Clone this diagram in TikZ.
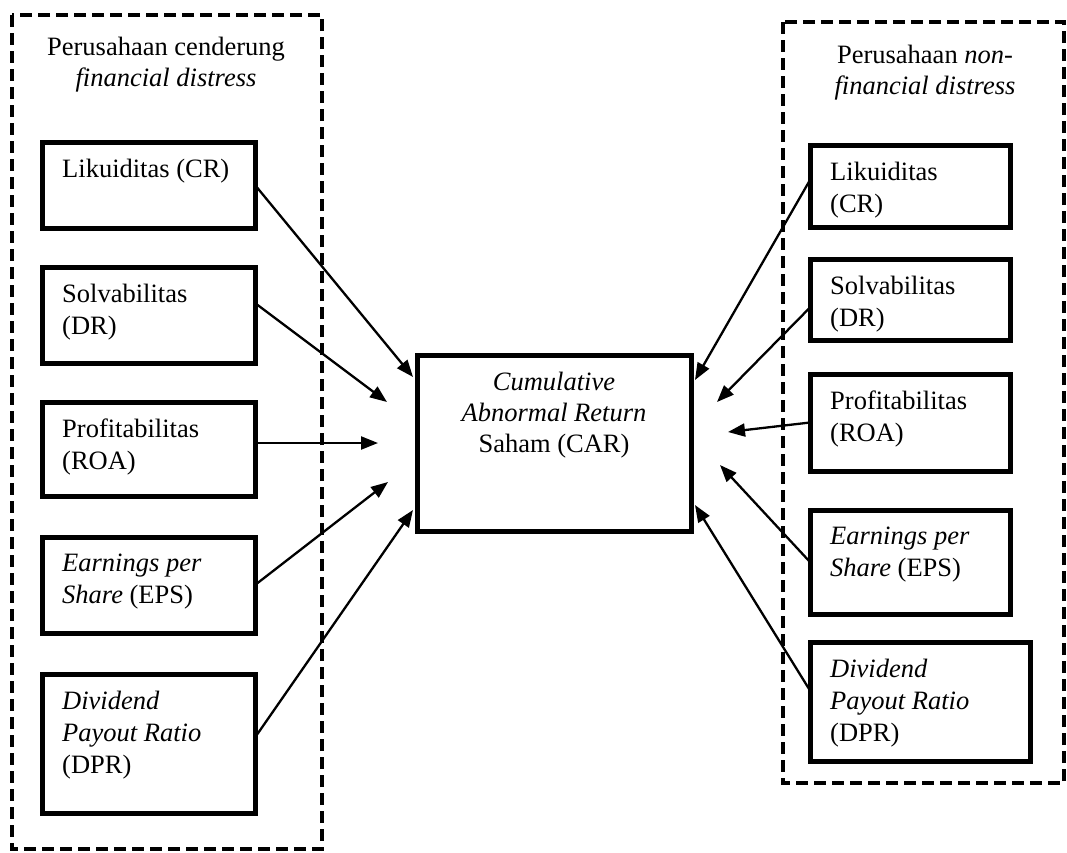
\documentclass[tikz,border=0pt]{standalone}
\usepackage{fontspec}
\setmainfont{Liberation Serif}
\usepackage{tikz}
\usetikzlibrary{arrows.meta}
\usetikzlibrary{positioning}

\newcommand{\varfont}{\fontsize{26.5}{32}\selectfont}
\tikzset{
  varbox/.style={draw, line width=5pt, anchor=north west, inner sep=0pt, outer sep=0pt},
  vartext/.style={anchor=north west, inner sep=0pt, align=left, font=\varfont},
  headtext/.style={anchor=north, inner sep=0pt, align=center, font=\fontsize{26.5}{31}\selectfont},
  groupbox/.style={draw, line width=4.5pt, dash pattern=on 12pt off 6pt},
  effect/.style={line width=2.3pt, -{Triangle[length=17pt,width=13pt]}}
}

\begin{document}
\begin{tikzpicture}[x=1pt, y=-1pt]
    \useasboundingbox (0,0) rectangle (1067,852);

    % groups
    \draw [groupbox] (12, 15) rectangle (322, 849);
    \draw [groupbox] (783, 22) rectangle (1064, 783);
    \node [headtext] (lhead) at (166, 37) {Perusahaan cenderung\\\textit{financial distress}};
    \node [headtext] (rhead) at (925, 45) {Perusahaan \textit{non-}\\\textit{financial distress}};

    % left variables
    \node [varbox, minimum width=213, minimum height=86] (lcr) at (42, 142) {};
    \node [varbox, minimum width=213, minimum height=96] (ldr) at (42, 267) {};
    \node [varbox, minimum width=213, minimum height=94] (lroa) at (42, 402) {};
    \node [varbox, minimum width=213, minimum height=96] (leps) at (42, 537) {};
    \node [varbox, minimum width=213, minimum height=139] (ldpr) at (42, 674) {};
    \node [vartext] at ([shift={(20,17)}]lcr.north west) {Likuiditas (CR)};
    \node [vartext] at ([shift={(20,17)}]ldr.north west) {Solvabilitas\\(DR)};
    \node [vartext] at ([shift={(20,17)}]lroa.north west) {Profitabilitas\\(ROA)};
    \node [vartext] at ([shift={(20,17)}]leps.north west) {\textit{Earnings per}\\\textit{Share} (EPS)};
    \node [vartext] at ([shift={(20,17)}]ldpr.north west) {\textit{Dividend}\\\textit{Payout Ratio}\\(DPR)};

    % right variables
    \node [varbox, minimum width=200, minimum height=82] (rcr) at (810, 145) {};
    \node [varbox, minimum width=200, minimum height=81] (rdr) at (810, 259) {};
    \node [varbox, minimum width=200, minimum height=97] (rroa) at (810, 374) {};
    \node [varbox, minimum width=200, minimum height=104] (reps) at (810, 510) {};
    \node [varbox, minimum width=220, minimum height=119] (rdpr) at (810, 642) {};
    \node [vartext] at ([shift={(20,17)}]rcr.north west) {Likuiditas\\(CR)};
    \node [vartext] at ([shift={(20,17)}]rdr.north west) {Solvabilitas\\(DR)};
    \node [vartext] at ([shift={(20,17)}]rroa.north west) {Profitabilitas\\(ROA)};
    \node [vartext] at ([shift={(20,17)}]reps.north west) {\textit{Earnings per}\\\textit{Share} (EPS)};
    \node [vartext] at ([shift={(20,17)}]rdpr.north west) {\textit{Dividend}\\\textit{Payout Ratio}\\(DPR)};

    % dependent variable
    \node [varbox, minimum width=274, minimum height=176] (car) at (417, 355) {};
    \node [headtext] at ([yshift=-17pt]car.north) {\textit{Cumulative}\\\textit{Abnormal Return}\\Saham (CAR)};

    % arrow tips
    \coordinate (tl1) at (413, 377);
    \coordinate (tl2) at (387, 402);
    \coordinate (tl3) at (378, 443);
    \coordinate (tl4) at (388, 482);
    \coordinate (tl5) at (413, 510);
    \coordinate (tr1) at (695, 380);
    \coordinate (tr2) at (717, 402);
    \coordinate (tr3) at (728, 432);
    \coordinate (tr4) at (720, 465);
    \coordinate (tr5) at (695, 505);

    \draw [effect] (lcr.east) -- (tl1);
    \draw [effect] ([yshift=12pt]ldr.east) -- (tl2);
    \draw [effect] ([yshift=6pt]lroa.east) -- (tl3);
    \draw [effect] (leps.east) -- (tl4);
    \draw [effect] ([yshift=6pt]ldpr.east) -- (tl5);
    \draw [effect] ([yshift=6pt]rcr.west) -- (tr1);
    \draw [effect] ([yshift=-8pt]rdr.west) -- (tr2);
    \draw [effect] (rroa.west) -- (tr3);
    \draw [effect] (reps.west) -- (tr4);
    \draw [effect] ([yshift=11pt]rdpr.west) -- (tr5);
\end{tikzpicture}
\end{document}
